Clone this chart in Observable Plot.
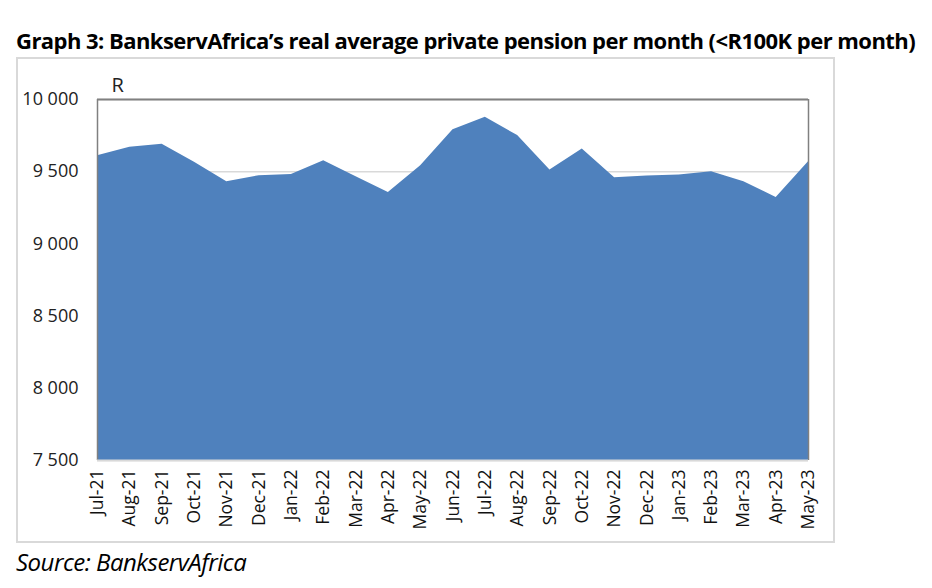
<!DOCTYPE html>
<html><head><meta charset="utf-8">
<script src="https://cdn.jsdelivr.net/npm/d3@7"></script>
<script src="https://cdn.jsdelivr.net/npm/@observablehq/plot@0.6"></script>
<style>
body{margin:0;background:#fff;font-family:"Open Sans",sans-serif;}
#page{position:relative;width:932px;height:588px;overflow:hidden;}
#title{position:absolute;left:16px;top:25px;font:bold 22px "Open Sans",sans-serif;letter-spacing:-0.55px;color:#000;white-space:nowrap;}
#box{position:absolute;left:16px;top:57px;width:815px;height:482px;border:2px solid #d9d9d9;}
#src{position:absolute;left:16px;top:545px;font:italic 24px "Open Sans",sans-serif;letter-spacing:-0.5px;color:#000;}
</style></head>
<body><div id="page">
<div id="title">Graph 3: BankservAfrica’s real average private pension per month (&lt;R100K per month)</div>
<div id="box"></div>
<div id="src">Source: BankservAfrica</div>
</div>
<script>
const months = ["Jul-21","Aug-21","Sep-21","Oct-21","Nov-21","Dec-21","Jan-22","Feb-22","Mar-22","Apr-22","May-22","Jun-22","Jul-22","Aug-22","Sep-22","Oct-22","Nov-22","Dec-22","Jan-23","Feb-23","Mar-23","Apr-23","May-23"];
const values = [9611,9669,9690,9565,9431,9472,9481,9576,9465,9356,9542,9790,9877,9750,9512,9658,9458,9470,9477,9500,9431,9322,9569];
const yTicks = [7500,8000,8500,9000,9500,10000];
const unitLabel = "R";

const data = months.map((m,i)=>({i, m, v: values[i]}));
const fmt = d => d3.format(",")(d).replace(/,/g, " ");

const chart = Plot.plot({
  width: 815, height: 482,
  marginLeft: 79, marginRight: 25, marginTop: 40, marginBottom: 81,
  style: {fontFamily: "'Open Sans', sans-serif", background: "transparent", color: "#222"},
  x: {type: "linear", domain: [0, months.length-1]},
  y: {domain: [7500, 10000]},
  marks: [
    Plot.gridY(yTicks, {stroke: "#d9d9d9", strokeOpacity: 1, strokeWidth: 1.5}),
    Plot.areaY(data, {x: "i", y1: 7500, y2: "v", fill: "#4f81bd"}),
    Plot.ruleY([10000], {stroke: "#808080", strokeWidth: 2}),
    Plot.ruleX([0, months.length-1], {y1: 7500, y2: 10000, stroke: "#808080", strokeWidth: 1.5}),
    Plot.ruleY([7500], {stroke: "#d9d9d9", strokeWidth: 2}),
    Plot.axisY({ticks: yTicks, tickFormat: fmt, tickSize: 0, tickPadding: 19, label: null, fontSize: 18, fill: "#222"}),
    Plot.axisX({ticks: d3.range(months.length), tickFormat: i => months[i], tickSize: 0, tickPadding: 9, tickRotate: -90, label: null, fontSize: 17.5, fill: "#111"}),
    Plot.text([unitLabel], {frameAnchor: "top-left", dx: 14, dy: -22, fontSize: 20, fill: "#222", textAnchor: "start"})
  ]
});
chart.style.position = "absolute";
chart.style.left = "0px";
chart.style.top = "0px";
document.getElementById("box").appendChild(chart);
</script>
</body></html>
